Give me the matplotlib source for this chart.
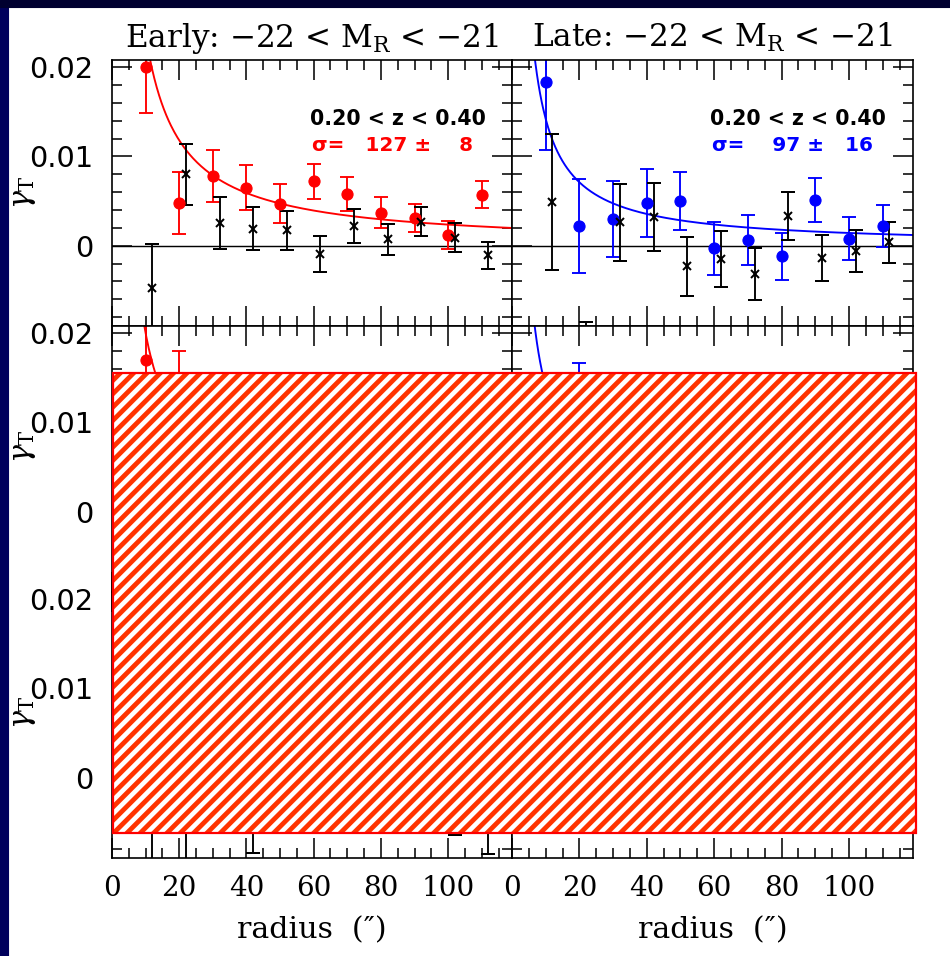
import matplotlib.pyplot as plt
import numpy as np
from matplotlib.patches import Rectangle
from matplotlib.ticker import MultipleLocator, FuncFormatter

plt.rcParams['mathtext.fontset'] = 'dejavuserif'
plt.rcParams['hatch.linewidth'] = 4.3

# --- row 1: 0.20 < z < 0.40 ---
r_col = [10, 20, 30, 40, 50, 60, 70, 80, 90, 100, 110]
r_cross = [12, 22, 32, 42, 52, 62, 72, 82, 92, 102, 112]

g_early = [0.0200, 0.0048, 0.0078, 0.0065, 0.0047, 0.0072, 0.0058, 0.0037, 0.0031, 0.0012, 0.0057]
e_early = [0.0051, 0.0035, 0.0029, 0.0025, 0.0022, 0.0020, 0.0019, 0.0017, 0.0016, 0.0016, 0.0015]
gx_early = [-0.0047, 0.0080, 0.0025, 0.0019, 0.0017, -0.0009, 0.0022, 0.0007, 0.0027, 0.0009, -0.0011]
ex_early = [0.0049, 0.0034, 0.0029, 0.0024, 0.0022, 0.0020, 0.0019, 0.0017, 0.0016, 0.0016, 0.0015]

g_late = [0.0183, 0.0022, 0.0030, 0.0048, 0.0050, -0.0003, 0.0006, -0.0012, 0.0051, 0.0008, 0.0022]
e_late = [0.0076, 0.0053, 0.0043, 0.0038, 0.0033, 0.0030, 0.0028, 0.0026, 0.0025, 0.0024, 0.0023]
gx_late = [0.0049, -0.0138, 0.0026, 0.0032, -0.0023, -0.0015, -0.0032, 0.0033, -0.0014, -0.0006, 0.0004]
ex_late = [0.0076, 0.0053, 0.0043, 0.0038, 0.0033, 0.0031, 0.0029, 0.0027, 0.0026, 0.0024, 0.0023]

amp_early1, amp_late1 = 0.236, 0.142
sig_early1, sig_late1 = "σ=   127 ±    8", "σ=    97 ±   16"

# --- row 2: 0.40 < z < 0.60 (mostly covered) ---
r_early2 = [10, 20]
g_early2 = [0.0170, 0.0125]
e_early2 = [0.0060, 0.0055]
r_late2 = [20]
g_late2 = [0.0112]
e_late2 = [0.0055]
amp_early2, amp_late2 = 0.200, 0.140

# --- row 3 (covered, only bottom edge visible) ---
r_cross3 = [12, 22, 42, 102, 112]
gx_early3 = [-0.0040, -0.0030, -0.0050, -0.0045, -0.0052]
ex_early3 = [0.0060, 0.0062, 0.0034, 0.0019, 0.0033]

z_labels = ["0.20 < z < 0.40", "0.40 < z < 0.60", ""]
titles = ["Early: −22 < M$_{\\rm R}$ < −21", "Late: −22 < M$_{\\rm R}$ < −21"]

W, H, DPI = 950, 956, 80
fig = plt.figure(figsize=(W / DPI, H / DPI), dpi=DPI, facecolor='white')

# dark frame
fig.add_artist(Rectangle((0, 0), 8 / W, 1, transform=fig.transFigure, color='#00005c', zorder=-5))
fig.add_artist(Rectangle((0, 1 - 7 / H), 1, 7 / H, transform=fig.transFigure, color='#000030', zorder=-5))

xl = [112, 512]
xw = [400, 401]
ytop = [60, 326, 592]
ph = 266


def yfmt(v, pos):
    if abs(v) < 1e-9:
        return "0"
    return "%.2f" % v


axes = {}
for row in range(3):
    for col in range(2):
        ax = fig.add_axes([xl[col] / W, 1 - (ytop[row] + ph) / H, xw[col] / W, ph / H])
        ax.set_xlim(0, 119)
        ax.set_ylim(-0.009, 0.0208)
        ax.xaxis.set_major_locator(MultipleLocator(20))
        ax.xaxis.set_minor_locator(MultipleLocator(5))
        ax.yaxis.set_major_locator(MultipleLocator(0.01))
        ax.yaxis.set_minor_locator(MultipleLocator(0.002))
        ax.yaxis.set_major_formatter(FuncFormatter(yfmt))
        ax.tick_params(which='both', direction='in', top=True, right=True, width=1.4, color='black')
        ax.tick_params(which='major', length=18)
        ax.tick_params(which='minor', length=9)
        ax.tick_params(axis='y', labelsize=26, pad=17, labelleft=(col == 0))
        ax.tick_params(axis='x', labelsize=25, pad=15, labelbottom=(row == 2))
        for lab in ax.get_xticklabels():
            lab.set_family('DejaVu Serif')
        for s in ax.spines.values():
            s.set_linewidth(1.5)
        ax.axhline(0, color='black', lw=1.3, zorder=1)
        axes[(row, col)] = ax

eb = dict(capsize=6, elinewidth=1.7, capthick=1.7, ls='none')
rr = np.linspace(1, 119, 500)

# row 1 left
ax = axes[(0, 0)]
ax.plot(rr, amp_early1 / rr, color='red', lw=1.7)
ax.errorbar(r_col, g_early, yerr=e_early, fmt='o', color='red', ms=10, **eb)
ax.errorbar(r_cross, gx_early, yerr=ex_early, fmt='x', color='black', ms=7, mew=1.8, **eb)
ax.text(0.935, 0.778, z_labels[0], transform=ax.transAxes, ha='right', va='center',
        fontsize=18.5, fontweight='bold')
ax.text(0.5, 0.678, sig_early1, transform=ax.transAxes, ha='left', va='center',
        fontsize=18, fontweight='bold', color='red')

# row 1 right
ax = axes[(0, 1)]
ax.plot(rr, amp_late1 / rr, color='blue', lw=1.7)
ax.errorbar(r_col, g_late, yerr=e_late, fmt='o', color='blue', ms=10, **eb)
ax.errorbar(r_cross, gx_late, yerr=ex_late, fmt='x', color='black', ms=7, mew=1.8, **eb)
ax.text(0.933, 0.778, z_labels[0], transform=ax.transAxes, ha='right', va='center',
        fontsize=18.5, fontweight='bold')
ax.text(0.5, 0.678, sig_late1, transform=ax.transAxes, ha='left', va='center',
        fontsize=18, fontweight='bold', color='blue')

# row 2
ax = axes[(1, 0)]
ax.plot(rr, amp_early2 / rr, color='red', lw=1.7)
ax.errorbar(r_early2, g_early2, yerr=e_early2, fmt='o', color='red', ms=10, **eb)
ax.text(0.935, 0.778, z_labels[1], transform=ax.transAxes, ha='right', va='center',
        fontsize=18.5, fontweight='bold')
ax = axes[(1, 1)]
ax.plot(rr, amp_late2 / rr, color='blue', lw=1.7)
ax.errorbar(r_late2, g_late2, yerr=e_late2, fmt='o', color='blue', ms=10, **eb)
ax.text(0.933, 0.778, z_labels[1], transform=ax.transAxes, ha='right', va='center',
        fontsize=18.5, fontweight='bold')

# row 3
ax = axes[(2, 0)]
ax.errorbar(r_cross3, gx_early3, yerr=ex_early3, fmt='x', color='black', ms=7, mew=1.8, **eb)

# titles and labels
for col in range(2):
    fig.text((xl[col] + xw[col] / 2) / W, 1 - 47 / H, titles[col], ha='center', va='baseline',
             fontsize=28, family='DejaVu Serif')
    fig.text((xl[col] + xw[col] / 2) / W, 1 - 930 / H, "radius  (″)", ha='center', va='center',
             fontsize=27, family='DejaVu Serif')
for yc in [192, 446, 712]:
    fig.text(23 / W, 1 - yc / H, r'$\gamma_{\rm T}$', rotation=90, ha='center', va='center',
             fontsize=27)

# hatched overlay
x0, y0, x1, y1 = 113, 373, 916, 833
fig.add_artist(Rectangle((x0 / W, 1 - y1 / H), (x1 - x0) / W, (y1 - y0) / H, transform=fig.transFigure,
                         facecolor='white', edgecolor='#ff3300', hatch='//', lw=0, zorder=20))
fig.add_artist(Rectangle((x0 / W, 1 - y1 / H), (x1 - x0) / W, (y1 - y0) / H, transform=fig.transFigure,
                         fill=False, edgecolor='red', lw=2, zorder=21))

fig.savefig('out.png', dpi=DPI, facecolor='white')
